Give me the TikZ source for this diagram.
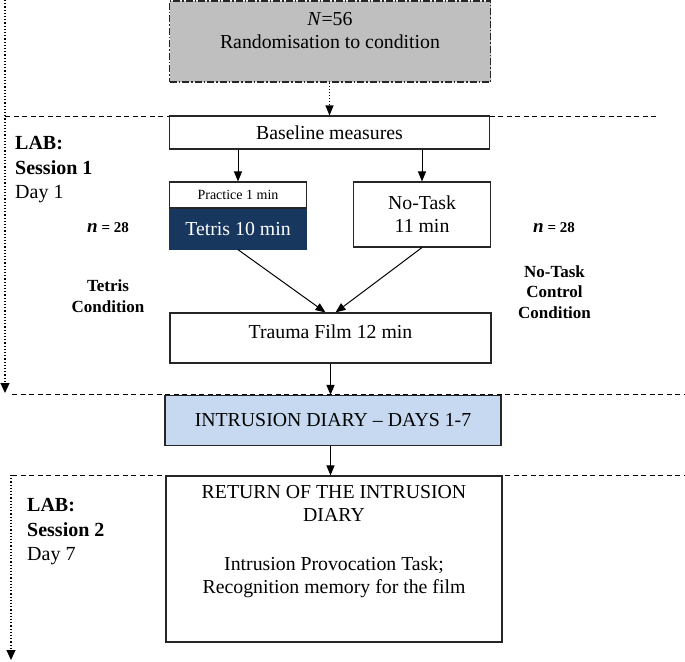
\documentclass[tikz,border=0pt]{standalone}
\usepackage{fontspec}
\setmainfont{Liberation Serif}
\usepackage{xcolor}
\usepackage{tikz}
\usetikzlibrary{arrows.meta, positioning}

\definecolor{randgray}{HTML}{BFBFBF}
\definecolor{tetrisblue}{HTML}{17375E}
\definecolor{diaryblue}{HTML}{C6D9F1}

\newcommand{\boxfont}{\fontsize{19.8}{23}\selectfont}
\newcommand{\smallboxfont}{\fontsize{14}{16}\selectfont}
\newcommand{\sessfont}{\fontsize{20}{24.5}\selectfont}
\newcommand{\condfont}{\fontsize{17}{20.5}\selectfont\bfseries}

\tikzset{
  box/.style={draw=black!85, line width=1.1pt, fill=white, inner sep=0pt},
  boxtext/.style={font=\boxfont, align=center, inner sep=0pt},
  sesslabel/.style={font=\sessfont, align=left, inner sep=0pt, anchor=west},
  condlabel/.style={font=\condfont, align=center, inner sep=0pt},
  nlabel/.style={inner sep=0pt},
  phase/.style={dashed, line width=0.9pt, dash pattern=on 5pt off 3.5pt},
  timeline/.style={dotted, line width=1.2pt, -{Triangle[length=10pt,width=9pt]}},
  >={Triangle[length=10pt,width=8pt]}
}

\begin{document}
\begin{tikzpicture}[x=1pt, y=1pt]
      \useasboundingbox (0,0) rectangle (685,-661);

      % phase borders and time lines
      \coordinate (p1l) at (5,-116);
      \coordinate (p1r) at (658,-116);
      \coordinate (p2l) at (12,-394);
      \coordinate (p2r) at (685,-394);
      \coordinate (p3l) at (12,-475);
      \coordinate (p3r) at (685,-475);
      \coordinate (t1top) at (5,0);
      \coordinate (t1end) at (5,-393);
      \coordinate (t2top) at (11,-475);
      \coordinate (t2end) at (11,-660);
      \draw[phase] (p1l) -- (p1r);
      \draw[phase] (p2l) -- (p2r);
      \draw[phase] (p3l) -- (p3r);
      \draw[timeline] (t1top) -- (t1end);
      \draw[timeline] (t2top) -- (t2end);

      % boxes
      \node[box, fill=randgray, minimum width=321pt, minimum height=81pt,
            dash pattern=on 7pt off 2pt on 1.5pt off 2pt]   (rand)     at (330,-41.5) {};
      \node[boxtext] (randtxt)  at ([yshift=-30.5pt]rand.north) {\textit{N}=56\\Randomisation to condition};
      \node[box, minimum width=320pt, minimum height=33pt]  (base)     at (329.5,-132.5) {};
      \node[boxtext] (basetxt)  at (base.center) {Baseline measures};
      \node[box, minimum width=137pt, minimum height=26pt]  (practice) at (238,-195) {};
      \node[font=\smallboxfont, inner sep=0pt] (practxt) at (practice.center) {Practice 1 min};
      \node[box, draw=tetrisblue, fill=tetrisblue, minimum width=137pt,
            minimum height=40pt, below=0pt of practice]     (tetris)   {};
      \node[boxtext, text=white] (tetristxt) at (tetris.center) {Tetris 10 min};
      \node[box, minimum width=137pt, minimum height=65pt]  (notask)   at (422,-214.5) {};
      \node[boxtext] (notasktxt) at (notask.center) {No-Task\\11 min};
      \node[box, minimum width=321pt, minimum height=50pt]  (trauma)   at (330.5,-338) {};
      \node[boxtext] (traumatxt) at ([yshift=-19pt]trauma.north) {Trauma Film 12 min};
      \node[box, fill=diaryblue, minimum width=336pt, minimum height=50pt] (diary) at (333,-420.5) {};
      \node[boxtext] (diarytxt) at (diary.center) {INTRUSION DIARY -- DAYS 1-7};
      \node[box, minimum width=336pt, minimum height=166pt] (return)   at (334,-559) {};
      \node[boxtext] (returntxt) at ([yshift=-66pt]return.north)
        {RETURN OF THE INTRUSION\\DIARY\\[26pt]Intrusion Provocation Task;\\Recognition memory for the film};

      % side labels
      \node[sesslabel] (sess1) at (15,-170) {\textbf{LAB:}\\\textbf{Session 1}\\Day 1};
      \node[sesslabel] (sess2) at (27,-532) {\textbf{LAB:}\\\textbf{Session 2}\\Day 7};
      \node[nlabel] (ntetris) at (108,-228) {\fontsize{19}{20}\selectfont\bfseries\itshape n\fontsize{15}{18}\selectfont\upshape\ = 28};
      \node[nlabel] (nnotask) at (554,-228) {\fontsize{19}{20}\selectfont\bfseries\itshape n\fontsize{15}{18}\selectfont\upshape\ = 28};
      \node[condlabel] (condtetris) at (108,-296) {Tetris\\Condition};
      \node[condlabel] (condnotask) at (554.5,-292) {No-Task\\Control\\Condition};

      % connectors
      \draw[->, dotted, line width=1.1pt] (rand.south -| base.north) -- (base.north);
      \path[->, line width=1pt]
        (base.south -| practice.north) edge (practice.north)
        (base.south -| notask.north)   edge (notask.north)
        (tetris.south) edge ([xshift=-5pt]trauma.north)
        (notask.south) edge ([xshift=5pt]trauma.north)
        (trauma.south) edge (diary.north -| trauma.south)
        (diary.south -| trauma.south) edge (return.north -| trauma.south);
\end{tikzpicture}
\end{document}
